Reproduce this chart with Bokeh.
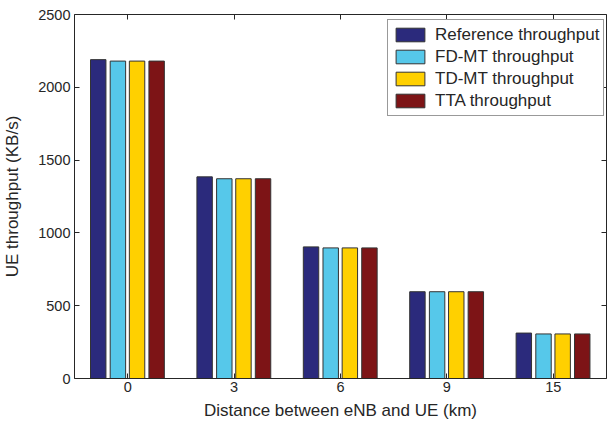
from bokeh.plotting import figure
from bokeh.models import (ColumnDataSource, FactorRange, Range1d, LinearAxis, CategoricalAxis,
                          FixedTicker, Legend, LegendItem)
from bokeh.transform import dodge
from bokeh.embed import file_html
from bokeh.resources import INLINE

distances = ["0", "3", "6", "9", "15"]
reference = [2190, 1385, 904, 596, 312]
fd_mt = [2180, 1372, 897, 596, 306]
td_mt = [2180, 1372, 897, 596, 306]
tta = [2180, 1372, 897, 596, 306]
series_names = ["Reference throughput", "FD-MT throughput", "TD-MT throughput", "TTA throughput"]
series_keys = ["reference", "fd_mt", "td_mt", "tta"]
colors = ["#2B2A7C", "#56C8EA", "#FFD000", "#7D1416"]
offsets = [-0.277, -0.092, 0.088, 0.272]
y_ticks = [0, 500, 1000, 1500, 2000, 2500]

source = ColumnDataSource(dict(x=distances, reference=reference, fd_mt=fd_mt, td_mt=td_mt, tta=tta))

FONT = "Liberation Sans"
AX = "#262626"

p = figure(x_range=FactorRange(*distances, range_padding=0), y_range=Range1d(0, 2500),
           width=607, height=424, output_backend="svg", toolbar_location=None,
           min_border_left=74, min_border_right=1, min_border_top=14, min_border_bottom=46)
p.background_fill_color = "white"
p.border_fill_color = "white"
p.outline_line_color = None
p.xgrid.visible = False
p.ygrid.visible = False

renderers = []
for key, col, off in zip(series_keys, colors, offsets):
    r = p.vbar(x=dodge("x", off, range=p.x_range), top=key, width=0.145, source=source,
               fill_color=col, line_color="#333333", line_width=1)
    renderers.append(r)

def style_axis(ax):
    ax.axis_line_color = AX
    ax.axis_line_width = 1
    ax.major_tick_line_color = AX
    ax.major_tick_in = 5
    ax.major_tick_out = 0
    ax.minor_tick_line_color = None
    ax.major_label_text_font = FONT
    ax.major_label_text_font_size = "14.5px"
    ax.major_label_text_color = "#262626"
    ax.axis_label_text_font = FONT
    ax.axis_label_text_font_size = "17px"
    ax.axis_label_text_font_style = "normal"
    ax.axis_label_text_color = "#262626"

xa = p.xaxis[0]
style_axis(xa)
xa.axis_label = "Distance between eNB and UE (km)"
xa.major_label_standoff = 3
xa.axis_label_standoff = 6
ya = p.yaxis[0]
style_axis(ya)
ya.ticker = FixedTicker(ticks=y_ticks)
ya.axis_label = "UE throughput (KB/s)"
ya.major_label_standoff = 4
ya.axis_label_standoff = 13

top_ax = CategoricalAxis()
style_axis(top_ax)
top_ax.major_label_text_color = None
top_ax.major_label_standoff = 0
p.add_layout(top_ax, "above")
right_ax = LinearAxis(ticker=FixedTicker(ticks=y_ticks),
                      major_label_overrides={t: "" for t in y_ticks})
style_axis(right_ax)
right_ax.major_label_standoff = 0
p.add_layout(right_ax, "right")

legend = Legend(items=[LegendItem(label=n, renderers=[r]) for n, r in zip(series_names, renderers)],
                location=(313, 262), margin=0, padding=4, spacing=1,
                glyph_width=36, glyph_height=17, label_height=21, label_standoff=7,
                label_text_font=FONT, label_text_font_size="17px", label_text_color="#262626",
                border_line_color="#333333", border_line_width=1, background_fill_color="white",
                background_fill_alpha=1)
p.add_layout(legend)

open("out.html", "w").write(file_html(p, INLINE))
